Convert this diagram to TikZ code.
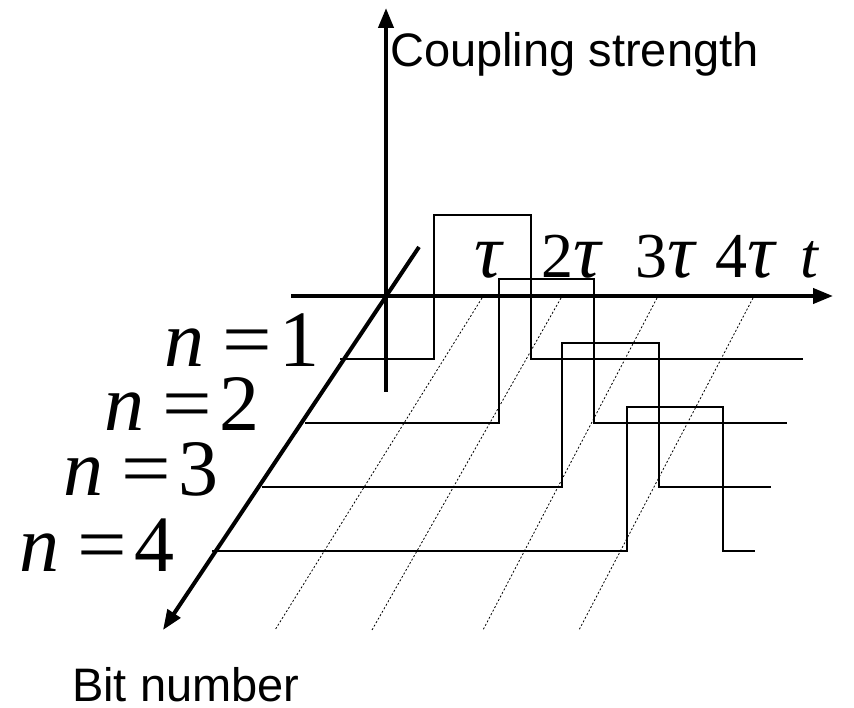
\documentclass[tikz,border=0pt]{standalone}
\usepackage{fontspec}
\setmainfont{Liberation Serif}
\newfontfamily\arialfam{Liberation Sans}
\usetikzlibrary{arrows.meta}
\newcommand{\bigtau}{\scalebox{1.2}{\textit{τ}}}
\newcommand{\nlab}[1]{\textit{n}\hspace{0.22em}\scalebox{1.1}[1]{=}\hspace{0.1em}#1}
\begin{document}
\begin{tikzpicture}[x=1pt,y=-1pt,
  axis/.style={line width=4pt,-{Triangle[length=20pt,width=15pt]}},
  pulse/.style={line width=1.6pt},
  guide/.style={line width=0.8pt,dash pattern=on 2pt off 2pt},
  nlbl/.style={inner sep=0pt,anchor=base east,font=\fontsize{80}{80}\selectfont},
  tlbl/.style={inner sep=0pt,anchor=base west,font=\fontsize{64}{64}\selectfont},
  slbl/.style={inner sep=0pt,anchor=base west,font=\arialfam\fontsize{47}{47}\selectfont},
]
\useasboundingbox (0,0) rectangle (854,708);

% guides
\coordinate (g1a) at (482,298); \coordinate (g1b) at (275,630);
\coordinate (g2a) at (561,298); \coordinate (g2b) at (372,630);
\coordinate (g3a) at (657,298); \coordinate (g3b) at (483,630);
\coordinate (g4a) at (753,298); \coordinate (g4b) at (579,630);
\foreach \i in {1,2,3,4} \draw[guide] (g\i a) -- (g\i b);

% pulses
\foreach \i/\s/\r/\f/\e in {0/340/434/531/803, 1/305/499/594/787, 2/262/562/659/771, 3/212/627/723/755}{
  \pgfmathsetmacro{\yb}{359+64*\i}
  \pgfmathsetmacro{\yt}{215+64*\i}
  \draw[pulse] (\s,\yb) -- (\r,\yb) -- (\r,\yt) -- (\f,\yt) -- (\f,\yb) -- (\e,\yb);
}

% axes
\coordinate (vb) at (386,392); \coordinate (vt) at (386,8);
\coordinate (hl) at (291,296); \coordinate (hr) at (833,296);
\coordinate (dt) at (419,247); \coordinate (db) at (163,630);
\draw[axis] (vb) -- (vt);
\draw[axis] (hl) -- (hr);
\draw[axis] (dt) -- (db);

% labels
\node[slbl] (cs) at (390,67) {Coupling strength};
\node[slbl] (bn) at (72,701) {Bit number};
\node[tlbl] (t1) at (474,278) {\bigtau};
\node[tlbl] (t2) at (541,278) {2\bigtau};
\node[tlbl] (t3) at (635,278) {3\bigtau};
\node[tlbl] (t4) at (715,278) {4\bigtau};
\node[tlbl] (tt) at (800,278) {\textit{t}};
\node[nlbl] (n1) at (320,367) {\nlab{1}};
\node[nlbl] (n2) at (260,431) {\nlab{2}};
\node[nlbl] (n3) at (219,495) {\nlab{3}};
\node[nlbl] (n4) at (175,571) {\nlab{4}};
\end{tikzpicture}
\end{document}
